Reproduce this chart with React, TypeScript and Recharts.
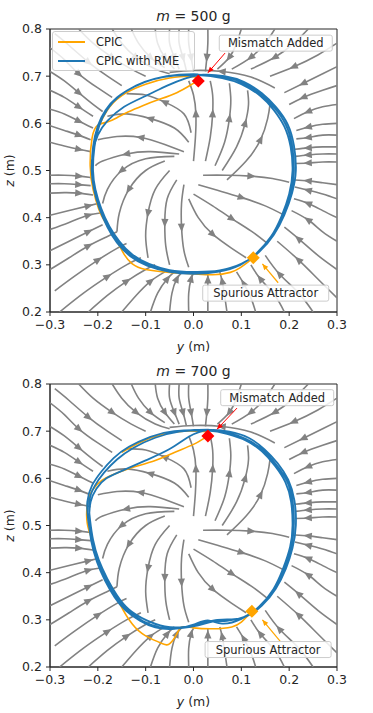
import React from "react";
import { ScatterChart, Scatter, XAxis, YAxis, Label, ReferenceArea } from "recharts";

type Pt = [number, number];

const X_TICKS = [-0.3, -0.2, -0.1, 0, 0.1, 0.2, 0.3];
const Z_TICKS = [0.2, 0.3, 0.4, 0.5, 0.6, 0.7, 0.8];
const MASSES = ["500", "700"];
const SERIES = ["CPIC", "CPIC with RME"];
const NOTES = ["Mismatch Added", "Spurious Attractor"];

// streamlines of the learned field, each listed in flow order (y, z)
const STREAMS: Pt[][] = [
  // top, flowing down onto the cycle
  [[-0.24, 0.8], [-0.21, 0.77], [-0.17, 0.74], [-0.13, 0.715], [-0.1, 0.7]],
  [[-0.17, 0.8], [-0.15, 0.77], [-0.12, 0.74], [-0.08, 0.715], [-0.05, 0.705]],
  [[-0.13, 0.8], [-0.115, 0.77], [-0.09, 0.74], [-0.06, 0.718]],
  [[-0.08, 0.8], [-0.075, 0.77], [-0.06, 0.74], [-0.04, 0.715]],
  [[-0.05, 0.8], [-0.05, 0.77], [-0.04, 0.74], [-0.03, 0.715]],
  [[-0.03, 0.8], [-0.03, 0.77], [-0.022, 0.74], [-0.015, 0.712]],
  [[-0.01, 0.8], [-0.01, 0.77], [-0.005, 0.74], [0.0, 0.71]],
  [[0.03, 0.8], [0.03, 0.77], [0.028, 0.74], [0.025, 0.71]],
  [[0.1, 0.8], [0.09, 0.77], [0.075, 0.74], [0.05, 0.715]],
  [[0.17, 0.8], [0.15, 0.77], [0.12, 0.74], [0.08, 0.715]],
  [[0.24, 0.8], [0.21, 0.77], [0.17, 0.74], [0.12, 0.715]],
  [[0.3, 0.77], [0.26, 0.745], [0.21, 0.72], [0.16, 0.7]],
  [[0.17, 0.675], [0.12, 0.698], [0.06, 0.71], [0.0, 0.712], [-0.05, 0.708]],
  // top-left corner, flowing down-right
  [[-0.29, 0.79], [-0.26, 0.765], [-0.22, 0.73], [-0.18, 0.7], [-0.15, 0.68]],
  [[-0.3, 0.76], [-0.27, 0.735], [-0.24, 0.705], [-0.2, 0.675], [-0.17, 0.655]],
  [[-0.3, 0.71], [-0.27, 0.69], [-0.24, 0.665], [-0.21, 0.64], [-0.19, 0.625]],
  [[-0.3, 0.67], [-0.27, 0.655], [-0.24, 0.635], [-0.21, 0.615]],
  [[-0.3, 0.63], [-0.27, 0.62], [-0.24, 0.605], [-0.21, 0.59]],
  [[-0.3, 0.595], [-0.27, 0.585], [-0.24, 0.575], [-0.215, 0.565]],
  [[-0.3, 0.56], [-0.27, 0.552], [-0.24, 0.545], [-0.215, 0.54]],
  // left, flowing right
  [[-0.3, 0.49], [-0.27, 0.49], [-0.24, 0.488], [-0.215, 0.485]],
  [[-0.3, 0.472], [-0.27, 0.472], [-0.24, 0.47], [-0.215, 0.468]],
  [[-0.3, 0.452], [-0.27, 0.453], [-0.24, 0.452], [-0.21, 0.448]],
  [[-0.3, 0.405], [-0.26, 0.415], [-0.22, 0.425], [-0.2, 0.43]],
  [[-0.3, 0.375], [-0.26, 0.39], [-0.22, 0.405], [-0.195, 0.41]],
  [[-0.3, 0.33], [-0.26, 0.35], [-0.22, 0.37], [-0.19, 0.385]],
  [[-0.3, 0.29], [-0.26, 0.315], [-0.22, 0.34], [-0.18, 0.36], [-0.16, 0.37]],
  [[-0.29, 0.245], [-0.25, 0.275], [-0.2, 0.31], [-0.16, 0.335], [-0.14, 0.345]],
  [[-0.28, 0.2], [-0.23, 0.24], [-0.18, 0.275], [-0.14, 0.3], [-0.11, 0.315]],
  [[-0.22, 0.2], [-0.18, 0.235], [-0.14, 0.265], [-0.1, 0.29], [-0.08, 0.3]],
  // bottom, flowing up
  [[-0.15, 0.2], [-0.12, 0.235], [-0.09, 0.265], [-0.06, 0.285]],
  [[-0.09, 0.2], [-0.075, 0.24], [-0.055, 0.27], [-0.04, 0.285]],
  [[-0.05, 0.2], [-0.045, 0.24], [-0.035, 0.27], [-0.025, 0.283]],
  [[-0.01, 0.2], [-0.01, 0.24], [-0.005, 0.27], [0.0, 0.282]],
  [[0.03, 0.2], [0.03, 0.24], [0.03, 0.268], [0.03, 0.282]],
  [[0.07, 0.2], [0.065, 0.235], [0.06, 0.265], [0.055, 0.285]],
  [[0.13, 0.2], [0.12, 0.23], [0.105, 0.26], [0.09, 0.285]],
  [[0.19, 0.2], [0.17, 0.235], [0.14, 0.27], [0.12, 0.3]],
  [[0.25, 0.2], [0.22, 0.24], [0.18, 0.28], [0.15, 0.32]],
  [[0.3, 0.23], [0.26, 0.27], [0.22, 0.31], [0.175, 0.35]],
  [[0.3, 0.29], [0.26, 0.32], [0.22, 0.355], [0.19, 0.38]],
  // right, flowing left
  [[0.3, 0.35], [0.27, 0.37], [0.24, 0.395], [0.205, 0.415]],
  [[0.3, 0.4], [0.27, 0.415], [0.24, 0.43], [0.21, 0.44]],
  [[0.3, 0.44], [0.27, 0.45], [0.24, 0.458], [0.212, 0.465]],
  [[0.3, 0.47], [0.27, 0.474], [0.24, 0.478], [0.212, 0.48]],
  [[0.3, 0.518], [0.27, 0.518], [0.24, 0.516], [0.213, 0.515]],
  [[0.3, 0.535], [0.27, 0.535], [0.24, 0.533], [0.213, 0.53]],
  [[0.3, 0.55], [0.27, 0.55], [0.24, 0.548], [0.212, 0.545]],
  [[0.3, 0.575], [0.27, 0.575], [0.24, 0.57], [0.215, 0.567]],
  [[0.3, 0.6], [0.27, 0.598], [0.24, 0.592], [0.215, 0.585]],
  [[0.3, 0.64], [0.27, 0.635], [0.24, 0.625], [0.21, 0.61]],
  [[0.3, 0.68], [0.27, 0.67], [0.23, 0.655], [0.2, 0.64]],
  [[0.3, 0.72], [0.27, 0.705], [0.23, 0.685], [0.19, 0.665]],
  // inside the cycle, spreading out from the centre
  [[0.0, 0.52], [0.004, 0.57], [0.005, 0.62], [0.0, 0.66], [-0.01, 0.69]],
  [[0.025, 0.52], [0.035, 0.57], [0.04, 0.62], [0.04, 0.66], [0.035, 0.69]],
  [[0.045, 0.51], [0.065, 0.56], [0.075, 0.61], [0.078, 0.65], [0.075, 0.685]],
  [[0.06, 0.5], [0.09, 0.55], [0.108, 0.6], [0.115, 0.64], [0.113, 0.67]],
  [[0.07, 0.48], [0.11, 0.52], [0.14, 0.565], [0.155, 0.61], [0.16, 0.64]],
  [[0.02, 0.49], [0.07, 0.49], [0.12, 0.488], [0.165, 0.483], [0.2, 0.475]],
  [[0.01, 0.47], [0.05, 0.458], [0.1, 0.443], [0.15, 0.425], [0.19, 0.405]],
  [[0.0, 0.45], [0.04, 0.425], [0.08, 0.398], [0.12, 0.372], [0.155, 0.345]],
  [[-0.01, 0.44], [0.01, 0.4], [0.04, 0.365], [0.08, 0.335], [0.11, 0.315]],
  [[-0.02, 0.47], [-0.025, 0.43], [-0.025, 0.38], [-0.02, 0.33], [-0.01, 0.295]],
  [[-0.035, 0.48], [-0.055, 0.44], [-0.06, 0.39], [-0.058, 0.34], [-0.05, 0.3]],
  [[-0.05, 0.5], [-0.08, 0.46], [-0.095, 0.41], [-0.1, 0.36], [-0.095, 0.315]],
  [[-0.06, 0.52], [-0.1, 0.5], [-0.135, 0.46], [-0.155, 0.41], [-0.16, 0.37]],
  [[-0.04, 0.53], [-0.1, 0.525], [-0.15, 0.5], [-0.18, 0.46], [-0.19, 0.43]],
  [[-0.03, 0.535], [-0.09, 0.54], [-0.14, 0.535], [-0.19, 0.52], [-0.205, 0.51]],
  [[-0.02, 0.54], [-0.06, 0.555], [-0.11, 0.57], [-0.16, 0.572], [-0.2, 0.565]],
  [[-0.01, 0.56], [-0.04, 0.59], [-0.09, 0.61], [-0.14, 0.62], [-0.18, 0.615]],
  [[-0.005, 0.58], [-0.02, 0.62], [-0.06, 0.645], [-0.1, 0.66], [-0.14, 0.663]],
];

// m = 500 g
const BLUE_500: Pt[] = [
  [0.01, 0.703], [0.06, 0.699], [0.1, 0.687], [0.14, 0.662], [0.17, 0.632], [0.193, 0.597], [0.206, 0.553], [0.21, 0.5],
  [0.203, 0.452], [0.187, 0.405], [0.165, 0.363], [0.135, 0.327], [0.1, 0.302], [0.05, 0.287], [0.0, 0.283], [-0.05, 0.287],
  [-0.095, 0.3], [-0.13, 0.32], [-0.158, 0.348], [-0.178, 0.38], [-0.195, 0.42], [-0.207, 0.46], [-0.212, 0.5], [-0.21, 0.55],
  [-0.2, 0.595], [-0.184, 0.628], [-0.16, 0.655], [-0.125, 0.677], [-0.085, 0.693], [-0.04, 0.701],
  [0.01, 0.702], [0.06, 0.696], [0.1, 0.683], [0.14, 0.658], [0.168, 0.628], [0.19, 0.593], [0.203, 0.55], [0.207, 0.5],
  [0.2, 0.45], [0.184, 0.403], [0.162, 0.36], [0.132, 0.325], [0.098, 0.3], [0.05, 0.285], [0.0, 0.281], [-0.05, 0.285],
  [-0.097, 0.298], [-0.132, 0.318], [-0.16, 0.347], [-0.18, 0.38], [-0.197, 0.42], [-0.208, 0.46], [-0.213, 0.5], [-0.21, 0.54],
  [-0.2, 0.575], [-0.18, 0.605], [-0.145, 0.635], [-0.1, 0.658], [-0.055, 0.68], [-0.015, 0.696],
  [0.02, 0.703], [0.065, 0.7], [0.105, 0.688], [0.143, 0.664], [0.173, 0.634], [0.197, 0.598], [0.21, 0.553], [0.214, 0.5],
  [0.206, 0.452], [0.19, 0.406], [0.168, 0.364], [0.138, 0.328], [0.102, 0.303], [0.055, 0.288], [0.0, 0.285], [-0.05, 0.289],
  [-0.093, 0.302], [-0.128, 0.322], [-0.155, 0.35], [-0.176, 0.382], [-0.193, 0.42], [-0.205, 0.46], [-0.21, 0.5], [-0.207, 0.55],
  [-0.197, 0.595], [-0.18, 0.63], [-0.155, 0.658], [-0.12, 0.68], [-0.08, 0.695], [-0.03, 0.703], [0.01, 0.704],
];
const ORANGE_PRE_500: Pt[] = [
  [-0.2, 0.59], [-0.175, 0.635], [-0.14, 0.665], [-0.1, 0.683], [-0.05, 0.696], [0.0, 0.699], [0.01, 0.69],
];
const ORANGE_500: Pt[] = [
  [0.01, 0.69], [-0.003, 0.683], [-0.035, 0.665], [-0.074, 0.65], [-0.105, 0.638], [-0.137, 0.624], [-0.16, 0.612],
  [-0.18, 0.603], [-0.2, 0.596], [-0.212, 0.569], [-0.216, 0.51], [-0.21, 0.46], [-0.198, 0.418], [-0.185, 0.391],
  [-0.16, 0.35], [-0.145, 0.322], [-0.128, 0.302], [-0.1, 0.29], [-0.05, 0.284], [0.0, 0.281], [0.04, 0.279],
  [0.077, 0.284], [0.098, 0.294], [0.113, 0.305], [0.125, 0.315],
];
const MISMATCH_500: Pt = [0.01, 0.69];
const SPURIOUS_500: Pt = [0.125, 0.315];
const MISMATCH_ARROW_500: Pt[] = [[0.066, 0.749], [0.03, 0.707]];
const SPURIOUS_ARROW_500: Pt[] = [[0.177, 0.262], [0.144, 0.302]];
const MISMATCH_NOTE_500: Pt = [0.172, 0.77];
const SPURIOUS_NOTE_500: Pt = [0.151, 0.24];

// m = 700 g
const BLUE_700: Pt[] = [
  [0.03, 0.703], [0.07, 0.697], [0.11, 0.683], [0.145, 0.66], [0.172, 0.63], [0.195, 0.595], [0.207, 0.552], [0.21, 0.503],
  [0.204, 0.455], [0.19, 0.41], [0.17, 0.368], [0.14, 0.33], [0.105, 0.306], [0.07, 0.298], [0.04, 0.296], [0.01, 0.288],
  [-0.03, 0.282], [-0.07, 0.284], [-0.105, 0.297], [-0.138, 0.32], [-0.162, 0.35], [-0.182, 0.385], [-0.2, 0.425], [-0.213, 0.47],
  [-0.22, 0.51], [-0.222, 0.55], [-0.212, 0.585], [-0.192, 0.615], [-0.167, 0.643], [-0.135, 0.667], [-0.09, 0.688], [-0.04, 0.7],
  [0.03, 0.701], [0.07, 0.694], [0.11, 0.68], [0.143, 0.657], [0.17, 0.627], [0.192, 0.592], [0.204, 0.55], [0.207, 0.5],
  [0.202, 0.455], [0.187, 0.408], [0.167, 0.365], [0.137, 0.328], [0.1, 0.302], [0.06, 0.292], [0.03, 0.299], [0.0, 0.29],
  [-0.04, 0.281], [-0.08, 0.284], [-0.112, 0.298], [-0.142, 0.32], [-0.165, 0.348], [-0.185, 0.383], [-0.202, 0.423], [-0.214, 0.468],
  [-0.218, 0.51], [-0.215, 0.55], [-0.203, 0.578], [-0.182, 0.6], [-0.145, 0.618], [-0.1, 0.638], [-0.05, 0.662], [-0.01, 0.688],
  [0.03, 0.702], [0.075, 0.699], [0.115, 0.686], [0.148, 0.662], [0.176, 0.632], [0.198, 0.597], [0.211, 0.553], [0.214, 0.5],
  [0.207, 0.452], [0.193, 0.408], [0.172, 0.366], [0.143, 0.33], [0.11, 0.307], [0.08, 0.301], [0.05, 0.3], [0.02, 0.293],
  [-0.02, 0.285], [-0.06, 0.286], [-0.1, 0.3], [-0.135, 0.322], [-0.16, 0.352], [-0.18, 0.387], [-0.198, 0.427], [-0.21, 0.47],
  [-0.216, 0.51], [-0.218, 0.55], [-0.207, 0.583], [-0.187, 0.612], [-0.16, 0.64], [-0.125, 0.665], [-0.08, 0.686], [-0.03, 0.699],
  [0.03, 0.703],
];
const ORANGE_PRE_700: Pt[] = [
  [-0.15, 0.655], [-0.11, 0.677], [-0.066, 0.693], [-0.02, 0.7], [0.03, 0.699],
];
const ORANGE_700: Pt[] = [
  [0.03, 0.69], [0.0, 0.672], [-0.04, 0.655], [-0.08, 0.638], [-0.137, 0.62], [-0.17, 0.607], [-0.191, 0.596],
  [-0.212, 0.574], [-0.222, 0.543], [-0.222, 0.504], [-0.212, 0.468], [-0.2, 0.426], [-0.18, 0.383], [-0.17, 0.368],
  [-0.154, 0.334], [-0.128, 0.291], [-0.1, 0.266], [-0.066, 0.25], [-0.049, 0.25], [-0.034, 0.272], [-0.024, 0.285],
  [0.0, 0.283], [0.04, 0.281], [0.08, 0.285], [0.1, 0.295], [0.112, 0.307], [0.122, 0.318],
];
const MISMATCH_700: Pt = [0.03, 0.69];
const SPURIOUS_700: Pt = [0.122, 0.318];
const MISMATCH_ARROW_700: Pt[] = [[0.091, 0.749], [0.049, 0.704]];
const SPURIOUS_ARROW_700: Pt[] = [[0.181, 0.255], [0.144, 0.3]];
const MISMATCH_NOTE_700: Pt = [0.175, 0.771];
const SPURIOUS_NOTE_700: Pt = [0.156, 0.237];

// styles
const ORANGE = "#ffa500";
const BLUE = "#1f77b4";
const RED = "#ff0000";
const GRAY = "#828282";
const INK = "#262626";
const FONT = "'DejaVu Sans', sans-serif";
const W = 373;
const H = 355;
const NOTE_W = [113, 126];
const SX = 478; // px per unit, used only to orient arrowheads
const SZ = 471;

const angleOf = (a: Pt, b: Pt) =>
  (Math.atan2(-(b[1] - a[1]) * SZ, (b[0] - a[0]) * SX) * 180) / Math.PI;

const streamRows = (pts: Pt[]) => {
  const m = Math.floor(pts.length / 2);
  return pts.map(([y, z], i) => ({
    y,
    z,
    dir: i === m ? angleOf(pts[i - 1], pts[Math.min(i + 1, pts.length - 1)]) : null,
  }));
};
const pathRows = (pts: Pt[]) => pts.map(([y, z]) => ({ y, z }));
const arrowRows = (pts: Pt[]) =>
  pts.map(([y, z], i) => ({ y, z, dir: i === pts.length - 1 ? angleOf(pts[i - 1], pts[i]) : null }));

const noDot = () => <g />;

const streamArrow = (props: any) => {
  const { cx, cy, payload } = props;
  if (payload.dir == null) return <g />;
  return (
    <polygon
      points="5,0 -3.5,-3.6 -3.5,3.6"
      transform={`translate(${cx},${cy}) rotate(${payload.dir})`}
      fill={GRAY}
    />
  );
};

const headShape = (color: string) => (props: any) => {
  const { cx, cy, payload } = props;
  if (payload.dir == null) return <g />;
  return (
    <polygon points="0,0 -6,-2.6 -6,2.6" transform={`translate(${cx},${cy}) rotate(${payload.dir})`} fill={color} />
  );
};

const diamond = (color: string) => (props: any) => {
  const { cx, cy } = props;
  const r = 6.5;
  return <polygon points={`${cx},${cy - r} ${cx + r},${cy} ${cx},${cy + r} ${cx - r},${cy}`} fill={color} />;
};

const noteShape = (props: any) => {
  const { cx, cy, payload } = props;
  const w = payload.w;
  const h = 16;
  return (
    <g>
      <rect x={cx - w / 2} y={cy - h / 2} width={w} height={h} rx={2} fill="#fff" fillOpacity={0.85} stroke="#cccccc" />
      <text x={cx} y={cy} dy="0.36em" textAnchor="middle" fontSize={11.5} fontFamily={FONT} fill={INK}>
        {payload.text}
      </text>
    </g>
  );
};

const fmt = (v: number) => (v < -1e-9 ? "\u2212" : "") + Math.abs(v).toFixed(1);

const xLabel = (props: any) => {
  const { x, y, width } = props.viewBox;
  return (
    <text x={x + width / 2} y={y + 39} textAnchor="middle" fontSize={12.5} fontFamily={FONT} fill={INK}>
      <tspan fontStyle="italic">y</tspan> (m)
    </text>
  );
};

const zLabel = (props: any) => {
  const { x, y, height } = props.viewBox;
  const cx = x + 14;
  const cy = y + height / 2;
  return (
    <text
      x={cx}
      y={cy}
      transform={`rotate(-90 ${cx} ${cy})`}
      textAnchor="middle"
      fontSize={12.5}
      fontFamily={FONT}
      fill={INK}
    >
      <tspan fontStyle="italic">z</tspan> (m)
    </text>
  );
};

interface PanelProps {
  mass: string;
  blue: Pt[];
  orangePre: Pt[];
  orange: Pt[];
  mismatch: Pt;
  spurious: Pt;
  mismatchArrow: Pt[];
  spuriousArrow: Pt[];
  mismatchNote: Pt;
  spuriousNote: Pt;
  legend: boolean;
  top: number;
}

function Panel(p: PanelProps) {
  const tick = { fontSize: 12.5, fontFamily: FONT, fill: INK };
  return (
    <div style={{ position: "absolute", left: 0, top: p.top, width: W, height: H }}>
      <ScatterChart width={W} height={H} margin={{ top: 29, right: 36, bottom: 0, left: 0 }}>
        <XAxis
          type="number"
          dataKey="y"
          domain={[-0.3, 0.3]}
          ticks={X_TICKS}
          allowDataOverflow
          tickFormatter={fmt}
          tick={tick}
          tickSize={4}
          tickMargin={4}
          height={43}
          stroke={INK}
        >
          <Label content={xLabel} />
        </XAxis>
        <YAxis
          type="number"
          dataKey="z"
          domain={[0.2, 0.8]}
          ticks={Z_TICKS}
          allowDataOverflow
          tickFormatter={fmt}
          tick={tick}
          tickSize={4}
          tickMargin={4}
          width={50}
          stroke={INK}
        >
          <Label content={zLabel} />
        </YAxis>
        {STREAMS.map((s, i) => (
          <Scatter
            key={`s${i}`}
            data={streamRows(s)}
            line={{ stroke: GRAY, strokeWidth: 1.6 }}
            lineJointType="natural"
            shape={streamArrow}
            isAnimationActive={false}
          />
        ))}
        <Scatter data={pathRows(p.orangePre)} line={{ stroke: ORANGE, strokeWidth: 1.6 }} lineJointType="natural" shape={noDot} isAnimationActive={false} />
        <Scatter data={pathRows(p.orange)} line={{ stroke: ORANGE, strokeWidth: 1.6 }} lineJointType="natural" shape={noDot} isAnimationActive={false} />
        <Scatter data={pathRows(p.blue)} line={{ stroke: BLUE, strokeWidth: 1.8 }} lineJointType="natural" shape={noDot} isAnimationActive={false} />
        <Scatter data={pathRows([p.mismatch])} shape={diamond(RED)} isAnimationActive={false} />
        <Scatter data={pathRows([p.spurious])} shape={diamond(ORANGE)} isAnimationActive={false} />
        <Scatter data={arrowRows(p.mismatchArrow)} line={{ stroke: RED, strokeWidth: 1 }} shape={headShape(RED)} isAnimationActive={false} />
        <Scatter data={arrowRows(p.spuriousArrow)} line={{ stroke: ORANGE, strokeWidth: 1.2 }} shape={headShape(ORANGE)} isAnimationActive={false} />
        <Scatter
          data={[{ y: p.mismatchNote[0], z: p.mismatchNote[1], text: NOTES[0], w: NOTE_W[0] }]}
          shape={noteShape}
          isAnimationActive={false}
        />
        <Scatter
          data={[{ y: p.spuriousNote[0], z: p.spuriousNote[1], text: NOTES[1], w: NOTE_W[1] }]}
          shape={noteShape}
          isAnimationActive={false}
        />
        <ReferenceArea x1={-0.3} x2={0.3} y1={0.2} y2={0.8} fill="none" stroke={INK} strokeWidth={1} />
      </ScatterChart>
      <div
        style={{
          position: "absolute",
          left: 50,
          top: 7,
          width: 287,
          textAlign: "center",
          fontFamily: FONT,
          fontSize: 14,
          lineHeight: "18px",
          color: INK,
        }}
      >
        <i>m</i> = {p.mass} g
      </div>
      {p.legend && (
        <div
          style={{
            position: "absolute",
            left: 52,
            top: 31,
            width: 143,
            height: 40,
            boxSizing: "border-box",
            border: "1px solid #cccccc",
            borderRadius: 3,
            background: "rgba(255,255,255,0.82)",
            fontFamily: FONT,
            fontSize: 11.5,
            color: INK,
          }}
        >
          {SERIES.map((name, i) => (
            <div key={name} style={{ position: "absolute", left: 5, top: 3 + i * 19, height: 14, display: "flex", alignItems: "center" }}>
              <span style={{ display: "inline-block", width: 27, height: 0, borderTop: `2px solid ${i === 0 ? ORANGE : BLUE}`, marginRight: 11 }} />
              <span style={{ whiteSpace: "nowrap" }}>{name}</span>
            </div>
          ))}
        </div>
      )}
    </div>
  );
}

export default function App() {
  return (
    <div style={{ position: "absolute", left: 0, top: 0, width: W, height: 713, background: "#fff" }}>
      <Panel
        mass={MASSES[0]}
        blue={BLUE_500}
        orangePre={ORANGE_PRE_500}
        orange={ORANGE_500}
        mismatch={MISMATCH_500}
        spurious={SPURIOUS_500}
        mismatchArrow={MISMATCH_ARROW_500}
        spuriousArrow={SPURIOUS_ARROW_500}
        mismatchNote={MISMATCH_NOTE_500}
        spuriousNote={SPURIOUS_NOTE_500}
        legend
        top={0}
      />
      <Panel
        mass={MASSES[1]}
        blue={BLUE_700}
        orangePre={ORANGE_PRE_700}
        orange={ORANGE_700}
        mismatch={MISMATCH_700}
        spurious={SPURIOUS_700}
        mismatchArrow={MISMATCH_ARROW_700}
        spuriousArrow={SPURIOUS_ARROW_700}
        mismatchNote={MISMATCH_NOTE_700}
        spuriousNote={SPURIOUS_NOTE_700}
        legend={false}
        top={355}
      />
    </div>
  );
}
